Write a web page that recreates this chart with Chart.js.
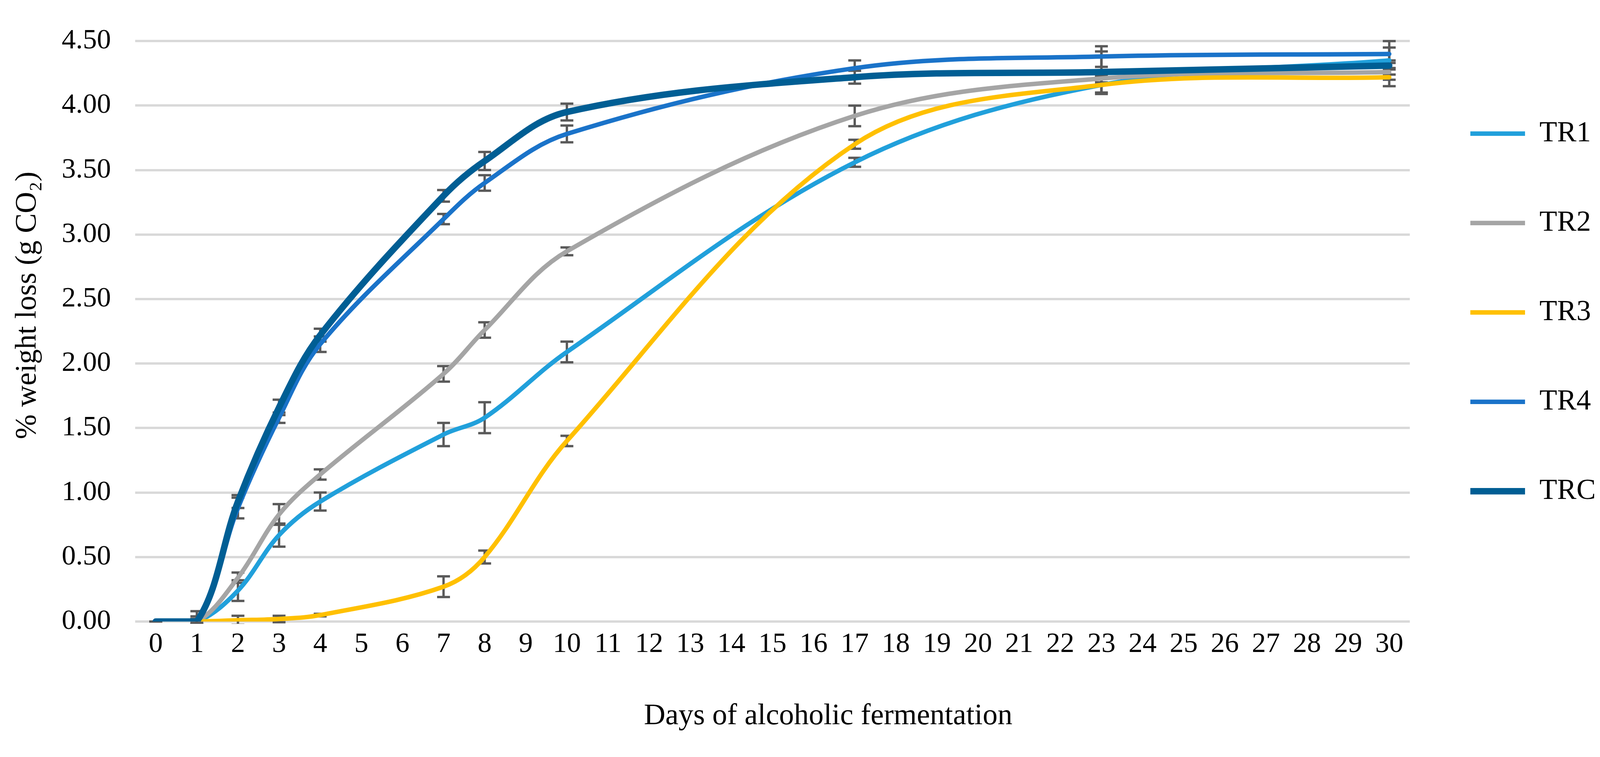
<!DOCTYPE html>
<html>
<head>
<meta charset="utf-8">
<title>Weight loss during alcoholic fermentation</title>
<script src="https://cdn.jsdelivr.net/npm/chart.js@4.4.1/dist/chart.umd.min.js"></script>
<style>
  html, body { margin: 0; padding: 0; background: #ffffff; }
  #wrap { width: 4173px; height: 1939px; }
</style>
</head>
<body>
<div id="wrap"><canvas id="fermentation-chart" width="4173" height="1939"></canvas></div>
<script>
// x axis tick labels (days 0..30)
const DAY_LABELS = ["0", "1", "2", "3", "4", "5", "6", "7", "8", "9", "10",
  "11", "12", "13", "14", "15", "16", "17", "18", "19", "20",
  "21", "22", "23", "24", "25", "26", "27", "28", "29", "30"];

// days on which the weight was measured
const DAYS = [0, 1, 2, 3, 4, 7, 8, 10, 17, 23, 30];

// % weight loss (g CO2) per treatment
const TR1 = [0, 0, 0.24, 0.67, 0.93, 1.45, 1.58, 2.09, 3.56, 4.16, 4.35];
const TR2 = [0, 0, 0.34, 0.83, 1.14, 1.92, 2.26, 2.87, 3.92, 4.21, 4.26];
const TR3 = [0, 0, 0.01, 0.02, 0.05, 0.27, 0.50, 1.40, 3.70, 4.16, 4.22];
const TR4 = [0, 0, 0.88, 1.58, 2.15, 3.12, 3.40, 3.78, 4.29, 4.38, 4.40];
const TRC = [0, 0, 0.93, 1.66, 2.22, 3.30, 3.57, 3.95, 4.22, 4.26, 4.31];

// standard deviations (error bars)
const TR1_SD = [0, 0.02, 0.08, 0.09, 0.07, 0.09, 0.12, 0.08, 0.035, 0.07, 0.15];
const TR2_SD = [0, 0.02, 0.04, 0.08, 0.04, 0.06, 0.06, 0.03, 0.08, 0.03, 0.02];
const TR3_SD = [0, 0.01, 0.035, 0.025, 0.01, 0.08, 0.05, 0.04, 0.035, 0.06, 0.07];
const TR4_SD = [0, 0.04, 0.08, 0.04, 0.06, 0.04, 0.06, 0.065, 0.06, 0.08, 0.05];
const TRC_SD = [0, 0.08, 0.05, 0.06, 0.05, 0.045, 0.07, 0.065, 0.05, 0.16, 0.02];

const Y_TICKS = [0, 0.5, 1, 1.5, 2, 2.5, 3, 3.5, 4, 4.5];

const FONT = "'Liberation Serif', 'Times New Roman', serif";

// put measured values on the 0..30 day axis, gaps elsewhere
const toSeries = (values) => {
  const out = DAY_LABELS.map(() => null);
  DAYS.forEach((d, i) => { out[d] = values[i]; });
  return out;
};

const makeDataset = (label, values, sd, color, width, order) => ({
  label,
  data: toSeries(values),
  values,
  sd,
  borderColor: color,
  backgroundColor: color,
  borderWidth: width,
  borderCapStyle: "round",
  borderJoinStyle: "round",
  pointRadius: 0,
  pointHoverRadius: 0,
  tension: 0.35,
  spanGaps: true,
  order,
});

const errorBars = {
  id: "errorBars",
  beforeDatasetsDraw(chart) {
    const { ctx, chartArea, scales } = chart;
    ctx.save();
    ctx.beginPath();
    ctx.rect(chartArea.left, chartArea.top - 4, chartArea.width, chartArea.height + 10);
    ctx.clip();
    ctx.strokeStyle = "#595959";
    ctx.lineWidth = 6;
    ctx.lineCap = "butt";
    chart.data.datasets.forEach((ds) => {
      ds.sd.forEach((sd, i) => {
        const px = scales.x.getPixelForValue(DAYS[i]);
        const top = scales.y.getPixelForValue(ds.values[i] + sd);
        const bottom = scales.y.getPixelForValue(ds.values[i] - sd);
        ctx.beginPath();
        ctx.moveTo(px, top);
        ctx.lineTo(px, bottom);
        ctx.moveTo(px - 16.5, top);
        ctx.lineTo(px + 16.5, top);
        ctx.moveTo(px - 16.5, bottom);
        ctx.lineTo(px + 16.5, bottom);
        ctx.stroke();
      });
    });
    ctx.restore();
  },
};

new Chart(document.getElementById("fermentation-chart"), {
  type: "line",
  data: {
    labels: DAY_LABELS,
    datasets: [
      makeDataset("TR1", TR1, TR1_SD, "#21A0DB", 11.5, 5),
      makeDataset("TR2", TR2, TR2_SD, "#A5A5A5", 11.5, 4),
      makeDataset("TR3", TR3, TR3_SD, "#FFC000", 11.5, 3),
      makeDataset("TR4", TR4, TR4_SD, "#1A73C9", 11.5, 2),
      makeDataset("TRC", TRC, TRC_SD, "#005E94", 16.5, 1),
    ],
  },
  options: {
    responsive: false,
    animation: false,
    devicePixelRatio: 1,
    layout: { padding: { top: 59, right: 78, bottom: 0, left: 0 } },
    plugins: {
      tooltip: { enabled: false },
      legend: {
        position: "right",
        align: "center",
        fullSize: false,
        maxWidth: 498,
        title: { display: true, text: "", font: { size: 1 }, padding: { top: -98, bottom: 0 } },
        labels: {
          usePointStyle: true,
          pointStyle: "line",
          pointStyleWidth: 140,
          padding: 155,
          color: "#000000",
          font: { family: FONT, size: 74 },
          sort: (a, b) => a.datasetIndex - b.datasetIndex,
        },
      },
    },
    scales: {
      x: {
        type: "category",
        offset: true,
        grid: { display: false, drawTicks: false },
        border: { display: false },
        ticks: {
          autoSkip: false,
          maxRotation: 0,
          padding: 16,
          color: "#000000",
          font: { family: FONT, size: 72 },
        },
        title: {
          display: true,
          text: "               Days of alcoholic fermentation",
          color: "#000000",
          font: { family: FONT, size: 76 },
          padding: { top: 0, bottom: 58 },
        },
        afterFit: (scale) => { scale.height = 347; },
      },
      y: {
        min: 0,
        max: 4.5,
        afterBuildTicks: (scale) => { scale.ticks = Y_TICKS.map((v) => ({ value: v })); },
        grid: { color: "#D9D9D9", lineWidth: 6, drawTicks: false },
        border: { display: false },
        ticks: {
          padding: 62,
          color: "#000000",
          font: { family: FONT, size: 72 },
          callback: (v) => Number(v).toFixed(2),
        },
        title: {
          display: true,
          text: "       % weight loss (g CO\u2082)",
          color: "#000000",
          font: { family: FONT, size: 76 },
          padding: { top: 25, bottom: 0 },
        },
        afterFit: (scale) => { scale.width = 346; },
      },
    },
  },
  plugins: [errorBars],
});
</script>
</body>
</html>
